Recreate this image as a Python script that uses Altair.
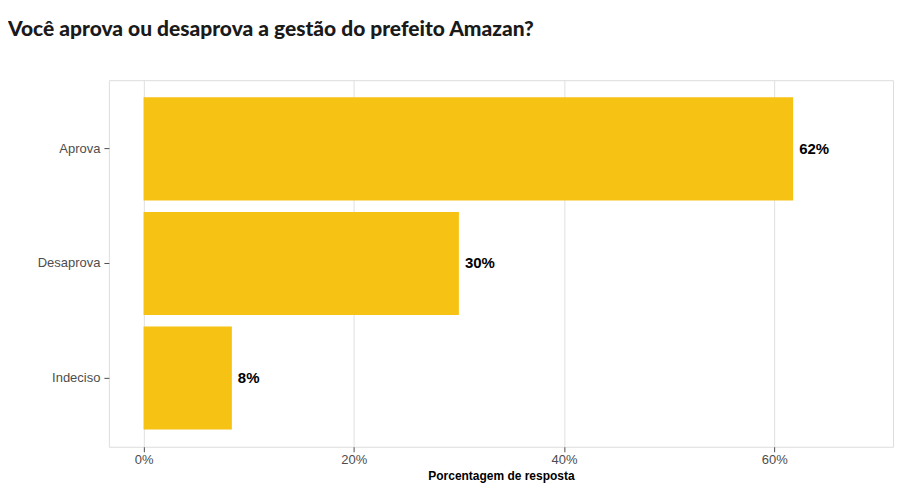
import pandas as pd
import altair as alt

respostas = ["Aprova", "Desaprova", "Indeciso"]
percentuais = [61.8, 30.0, 8.4]
rotulos = ["62%", "30%", "8%"]

df = pd.DataFrame({"resposta": respostas, "pct": percentuais, "rotulo": rotulos})

x_enc = alt.X(
    "pct:Q",
    title="Porcentagem de resposta",
    scale=alt.Scale(domain=[-3.3, 71.3], nice=False, zero=False),
    axis=alt.Axis(values=[0, 20, 40, 60], labelExpr="datum.value + '%'",
                  grid=True, gridColor="#e0e0e0", domain=False,
                  tickColor="#4d4d4d", labelColor="#4d4d4d", labelFontSize=13,
                  titleFontSize=12, titleFontWeight="bold", titleColor="black",
                  titlePadding=4),
)
y_enc = alt.Y(
    "resposta:N", sort=respostas, title=None,
    scale=alt.Scale(paddingInner=0.1, paddingOuter=0.15),
    axis=alt.Axis(domain=False, tickColor="#4d4d4d", labelColor="#4d4d4d",
                  labelFontSize=13, labelPadding=4),
)

bars = alt.Chart(df).mark_bar(color="#F6C315").encode(x=x_enc, y=y_enc)
labels = alt.Chart(df).mark_text(
    align="left", baseline="middle", dx=6, fontSize=15, fontWeight="bold", color="black"
).encode(x="pct:Q", y=alt.Y("resposta:N", sort=respostas), text="rotulo:N")

chart = (
    (bars + labels)
    .properties(
        width=785, height=367,
        autosize=alt.AutoSizeParams(type="none"),
        padding={"left": 101, "top": 72, "right": 1, "bottom": 44},
        title=alt.TitleParams(
            "Você aprova ou desaprova a gestão do prefeito Amazan?",
            anchor="start", frame="group", dx=-101, offset=40,
            fontSize=21, fontWeight=900, color="#1a1a1a", font="Lato",
        ),
    )
    .configure_view(stroke="#9a9a9a", strokeWidth=1)
    .configure(font="Liberation Sans")
)

chart.save("out.html", embed_options={"renderer": "svg", "actions": False})
